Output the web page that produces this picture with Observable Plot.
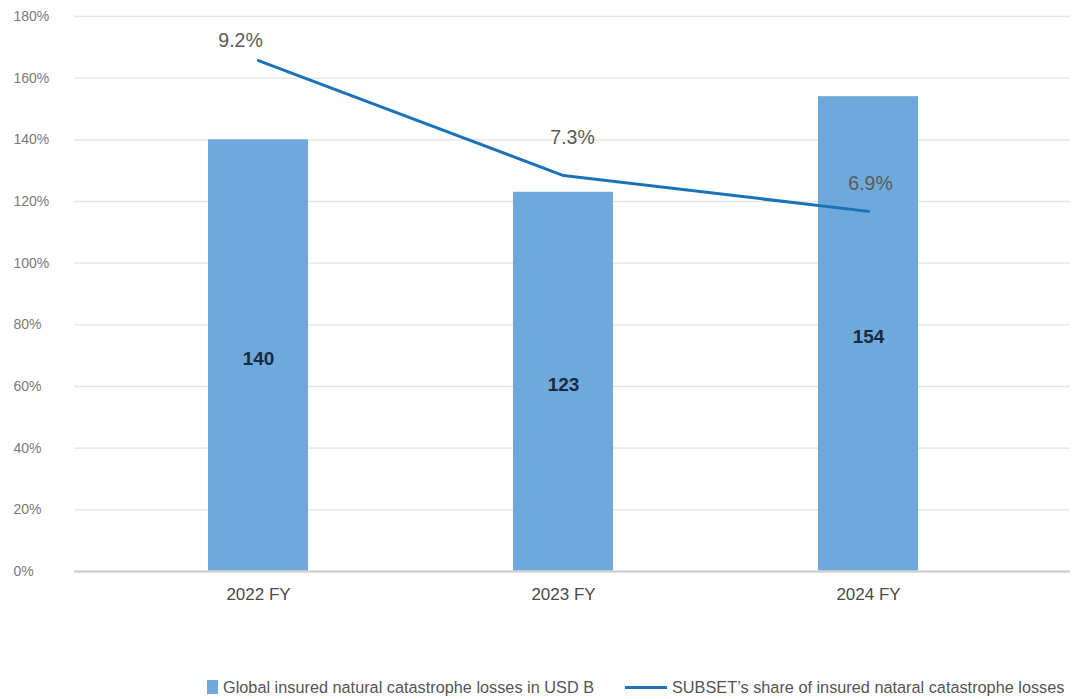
<!DOCTYPE html>
<html>
<head>
<meta charset="utf-8">
<script src="https://cdn.jsdelivr.net/npm/d3@7"></script>
<script src="https://cdn.jsdelivr.net/npm/@observablehq/plot@0.6"></script>
<style>
  html, body { margin: 0; padding: 0; background: #fff; }
  body { width: 1074px; height: 699px; overflow: hidden; font-family: "Liberation Sans", sans-serif; }
  #chart svg { display: block; }
  .legend { position: absolute; top: 677px; left: 0; width: 1074px; height: 22px; font-size: 16.3px; color: #555; }
  .legend .item { position: absolute; top: 0; display: flex; align-items: center; height: 20px; white-space: nowrap; }
  .sw-bar { width: 11px; height: 14px; background: #6fa9dc; margin-right: 5px; }
  .sw-line { width: 42px; height: 3px; background: #1a73b8; margin-right: 5px; }
</style>
</head>
<body>
<div id="chart"></div>
<div class="legend">
  <div class="item" style="left:207px"><span class="sw-bar"></span>Global insured natural catastrophe losses in USD B</div>
  <div class="item" style="left:625px"><span class="sw-line"></span>SUBSET’s share of insured nataral catastrophe losses</div>
</div>
<script>
const categories = ["2022 FY", "2023 FY", "2024 FY"];
const losses = [140, 123, 154];           // USD B (bar heights on the % axis as drawn)
const shareLabels = ["9.2%", "7.3%", "6.9%"];
const shareLevel = [1.657, 1.284, 1.168]; // line position
const yTicks = [0, 0.2, 0.4, 0.6, 0.8, 1.0, 1.2, 1.4, 1.6, 1.8];

const bars = categories.map((c, i) => ({cat: c, v: losses[i] / 100, label: String(losses[i])}));
const pts = categories.map((c, i) => ({cat: c, v: shareLevel[i], label: shareLabels[i]}));

const font = "Liberation Sans, sans-serif";

const labelMark = (i, dx, dy) => Plot.text([pts[i]], {
  x: "cat", y: "v", text: "label", dx, dy,
  fill: "#5a5a5a", fontSize: 19.5, fontFamily: font
});

const chart = Plot.plot({
  width: 1074,
  height: 620,
  marginTop: 16,
  marginBottom: 49,
  marginLeft: 74,
  marginRight: 4,
  style: {fontFamily: font, background: "#fff"},
  x: {domain: categories, range: [105.5, 1020.5], paddingInner: 0.672, paddingOuter: 0.336, label: null},
  y: {domain: [0, 1.8], label: null},
  marks: [
    Plot.ruleY(yTicks.filter(d => d > 0), {stroke: "#e4e4e4", strokeWidth: 1.3}),
    Plot.barY(bars, {x: "cat", y: "v", fill: "#6fa9dc"}),
    Plot.ruleY([0], {stroke: "#d2d2d2", strokeWidth: 2.5}),
    Plot.text(bars, {x: "cat", y: d => d.v / 2, dy: 3, text: "label", fill: "#172b40", fontSize: 19, fontWeight: "bold", fontFamily: font}),
    Plot.line(pts, {x: "cat", y: "v", stroke: "#1a73b8", strokeWidth: 3}),
    labelMark(0, -18, -20),
    labelMark(1, 9, -38),
    labelMark(2, 2, -28),
    Plot.axisY(yTicks, {
      tickSize: 0, anchor: "left", textAnchor: "start", dx: -52,
      tickFormat: d => Math.round(d * 100) + "%",
      fill: "#7a7a7a", fontSize: 14, fontFamily: font
    }),
    Plot.axisX({tickSize: 0, tickPadding: 16, fill: "#4a4a4a", fontSize: 17, fontFamily: font})
  ]
});
document.getElementById("chart").appendChild(chart);
</script>
</body>
</html>
